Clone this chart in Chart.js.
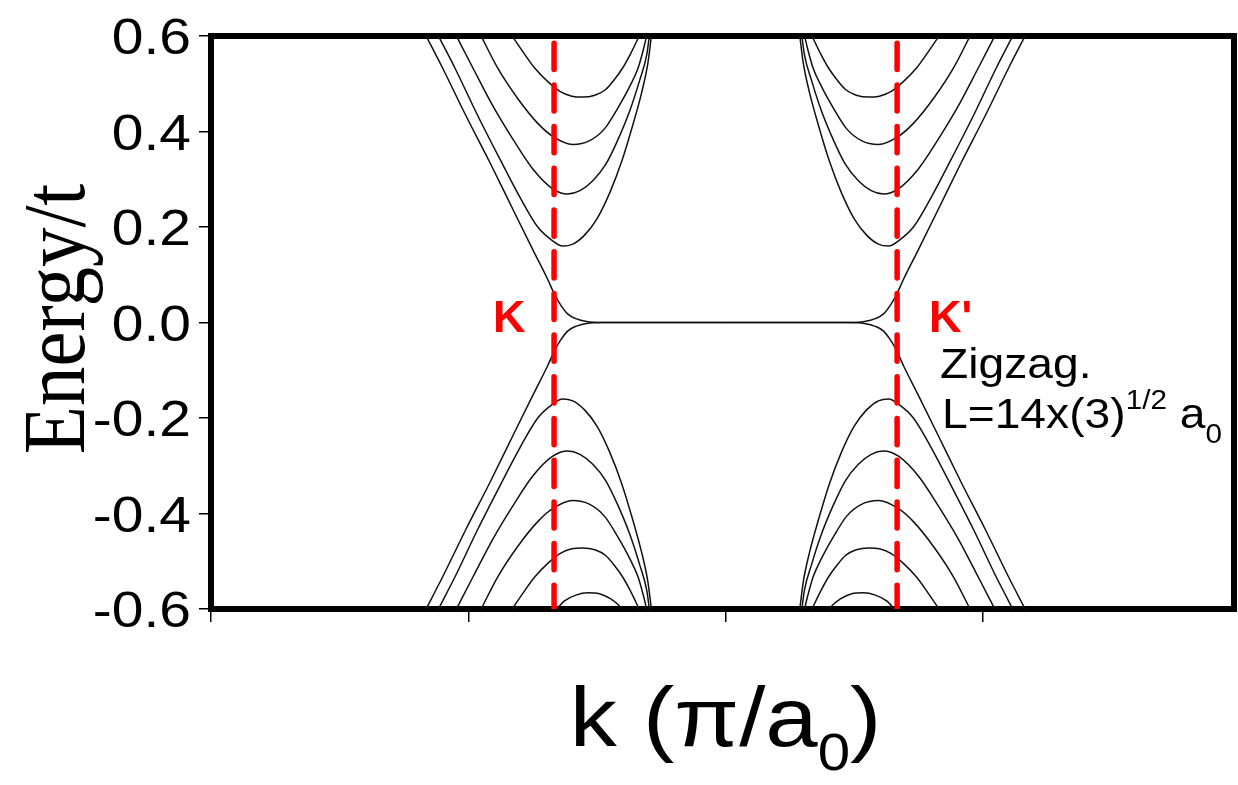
<!DOCTYPE html>
<html>
<head>
<meta charset="utf-8">
<title>Zigzag ribbon subbands</title>
<script src="https://cdn.jsdelivr.net/npm/chart.js"></script>
<style>
  html, body { margin: 0; padding: 0; background: #fff; }
  #bands { display: block; }
</style>
</head>
<body>
<canvas id="bands" width="1238" height="785"></canvas>
<script>
// k in units of pi/a0, energy in units of t
const kK = 2 / 3;       // K valley
const kKp = 4 / 3;      // K' valley
const kMid = 1;         // zone edge, the two valleys mirror about it
const kMin = 0, kMax = 1.988;
const eMin = -0.6, eMax = 0.6;

const yTicks = [-0.6, -0.4, -0.2, 0.0, 0.2, 0.4, 0.6];
const xTicks = [0, 0.5, 1.0, 1.5];

// subbands around K, E > 0 side
const edgeK = [0.417, 0.450, 0.495, 0.542, 0.588, 0.627, 0.654, 0.668, 0.680, 0.693, 0.709, 0.730, 0.760, 1.000];
const edgeE = [0.602, 0.533, 0.434, 0.335, 0.234, 0.149, 0.091, 0.058, 0.036, 0.018, 0.008, 0.002, 0.000, 0.000];

const band1K = [0.441, 0.474, 0.518, 0.561, 0.600, 0.635, 0.664, 0.683, 0.703, 0.726, 0.750, 0.775, 0.798, 0.819, 0.837, 0.849, 0.856];
const band1E = [0.602, 0.533, 0.434, 0.343, 0.263, 0.200, 0.171, 0.160, 0.164, 0.183, 0.217, 0.272, 0.337, 0.411, 0.482, 0.543, 0.602];

const band2K = [0.476, 0.509, 0.548, 0.586, 0.625, 0.664, 0.693, 0.717, 0.742, 0.767, 0.790, 0.814, 0.833, 0.847, 0.852];
const band2E = [0.602, 0.533, 0.453, 0.385, 0.322, 0.280, 0.269, 0.276, 0.297, 0.331, 0.381, 0.444, 0.507, 0.562, 0.602];

const band3K = [0.524, 0.557, 0.596, 0.635, 0.664, 0.703, 0.736, 0.765, 0.790, 0.814, 0.830, 0.841, 0.847];
const band3E = [0.602, 0.533, 0.469, 0.417, 0.390, 0.373, 0.381, 0.406, 0.448, 0.495, 0.533, 0.575, 0.602];

const band4K = [0.584, 0.608, 0.629, 0.654, 0.678, 0.701, 0.722, 0.746, 0.767, 0.784, 0.800, 0.815, 0.833];
const band4E = [0.602, 0.564, 0.533, 0.505, 0.484, 0.474, 0.472, 0.476, 0.488, 0.509, 0.533, 0.562, 0.602];

// fifth hole subband, only its top is inside the window
const band5K = [0.668, 0.687, 0.709, 0.732, 0.755, 0.777, 0.794, 0.800];
const band5E = [-0.605, -0.583, -0.571, -0.566, -0.568, -0.579, -0.594, -0.605];

const SANS = '"Liberation Sans", Arial, sans-serif';
const SERIF = '"Liberation Serif", "Times New Roman", serif';
const RED = '#ff0000';

function toPoints(ks, es, flipK, flipE) {
  const pts = ks.map((k, i) => ({
    x: flipK ? 2 * kMid - k : k,
    y: flipE ? -es[i] : es[i],
  }));
  return flipK ? pts.reverse() : pts;
}

function curve(pts) {
  return {
    data: pts,
    showLine: true,
    borderColor: '#111',
    borderWidth: 1.5,
    pointRadius: 0,
    cubicInterpolationMode: 'monotone',
    order: 1,
  };
}

function valleyLine(k) {
  return {
    data: [{ x: k, y: eMax }, { x: k, y: eMin }],
    showLine: true,
    borderColor: RED,
    borderWidth: 5.5,
    borderDash: [26.2, 15.5],
    borderDashOffset: 34.5,
    borderCapStyle: 'round',
    pointRadius: 0,
    order: 0,
  };
}

const datasets = [];
const pairs = [[edgeK, edgeE], [band1K, band1E], [band2K, band2E], [band3K, band3E], [band4K, band4E]];
for (const [ks, es] of pairs) {
  for (const flipK of [false, true]) {
    for (const flipE of [false, true]) {
      datasets.push(curve(toPoints(ks, es, flipK, flipE)));
    }
  }
}
datasets.push(curve(toPoints(band5K, band5E, false, false)));
datasets.push(curve(toPoints(band5K, band5E, true, false)));
datasets.push(valleyLine(kK));
datasets.push(valleyLine(kKp));

// text drawn with a horizontal stretch factor
function drawText(ctx, text, x, y, font, sx, align, color) {
  ctx.save();
  ctx.font = font;
  ctx.fillStyle = color || '#000';
  ctx.textBaseline = 'alphabetic';
  ctx.textAlign = align || 'left';
  ctx.translate(x, y);
  ctx.scale(sx, 1);
  ctx.fillText(text, 0, 0);
  ctx.restore();
}

// runs of text with sub/superscripts, starting at x
function drawRuns(ctx, runs, x, y, sx) {
  let cx = x;
  for (const r of runs) {
    ctx.save();
    ctx.font = r.font;
    ctx.fillStyle = '#000';
    ctx.textBaseline = 'alphabetic';
    ctx.textAlign = 'left';
    ctx.translate(cx, y + (r.dy || 0));
    ctx.scale(sx, 1);
    ctx.fillText(r.text, 0, 0);
    cx += ctx.measureText(r.text).width * sx;
    ctx.restore();
  }
  return cx;
}

function runsWidth(ctx, runs, sx) {
  let w = 0;
  for (const r of runs) {
    ctx.font = r.font;
    w += ctx.measureText(r.text).width * sx;
  }
  return w;
}

const framePlugin = {
  id: 'frame',
  beforeDatasetsDraw(chart) {
    const { ctx, chartArea: a } = chart;
    ctx.save();
    ctx.strokeStyle = '#000';
    ctx.lineWidth = 6;
    ctx.strokeRect(a.left, a.top, a.right - a.left, a.bottom - a.top);
    ctx.restore();
  },
};

const labelPlugin = {
  id: 'labels',
  afterDraw(chart) {
    const { ctx } = chart;
    const y = chart.scales.y;
    const x = chart.scales.x;

    // energy tick labels
    for (const v of yTicks) {
      drawText(ctx, v.toFixed(1), 191, y.getPixelForValue(v) + 18, `50px ${SANS}`, 1.14, 'right');
    }

    // vertical axis title
    ctx.save();
    ctx.font = `79px ${SERIF}`;
    ctx.fillStyle = '#000';
    ctx.textAlign = 'center';
    ctx.textBaseline = 'alphabetic';
    ctx.translate(84, 319);
    ctx.scale(1.12, 1);
    ctx.rotate(-Math.PI / 2);
    ctx.fillText('Energy/t', 0, 0);
    ctx.restore();

    // horizontal axis title
    const title = [
      { text: 'k (π/a', font: `84px ${SANS}` },
      { text: '0', font: `52px ${SANS}`, dy: 24 },
      { text: ')', font: `84px ${SANS}` },
    ];
    const tw = runsWidth(ctx, title, 1.12);
    drawRuns(ctx, title, x.getPixelForValue(kMid) - tw / 2, 746, 1.12);

    // valley markers
    drawText(ctx, 'K', 493, 332, `bold 45px ${SANS}`, 1.0, 'left', RED);
    drawText(ctx, "K'", 929, 332, `bold 45px ${SANS}`, 1.0, 'left', RED);

    // ribbon description
    drawText(ctx, 'Zigzag.', 940, 378, `42px ${SANS}`, 1.1, 'left');
    drawRuns(ctx, [
      { text: 'L=14x(3)', font: `42px ${SANS}` },
      { text: '1/2', font: `27px ${SANS}`, dy: -19 },
      { text: ' a', font: `42px ${SANS}` },
      { text: '0', font: `27px ${SANS}`, dy: 15 },
    ], 942, 428, 1.1);
  },
};

new Chart(document.getElementById('bands'), {
  type: 'scatter',
  data: { datasets },
  options: {
    responsive: false,
    animation: false,
    events: [],
    layout: { padding: { top: 36, right: 4, bottom: 0, left: 0 } },
    plugins: { legend: { display: false }, tooltip: { enabled: false } },
    scales: {
      x: {
        type: 'linear',
        min: kMin,
        max: kMax,
        afterBuildTicks: s => { s.ticks = xTicks.map(v => ({ value: v })); },
        afterFit: s => { s.height = 176; },
        ticks: { display: false },
        grid: { drawOnChartArea: false, drawTicks: true, tickLength: 13, color: '#000', lineWidth: 1.5 },
        border: { display: false },
      },
      y: {
        type: 'linear',
        min: eMin,
        max: eMax,
        afterBuildTicks: s => { s.ticks = yTicks.map(v => ({ value: v })); },
        afterFit: s => { s.width = 211; },
        ticks: { display: false },
        grid: { drawOnChartArea: false, drawTicks: true, tickLength: 12, color: '#000', lineWidth: 1.5 },
        border: { display: false },
      },
    },
  },
  plugins: [framePlugin, labelPlugin],
});
</script>
</body>
</html>
